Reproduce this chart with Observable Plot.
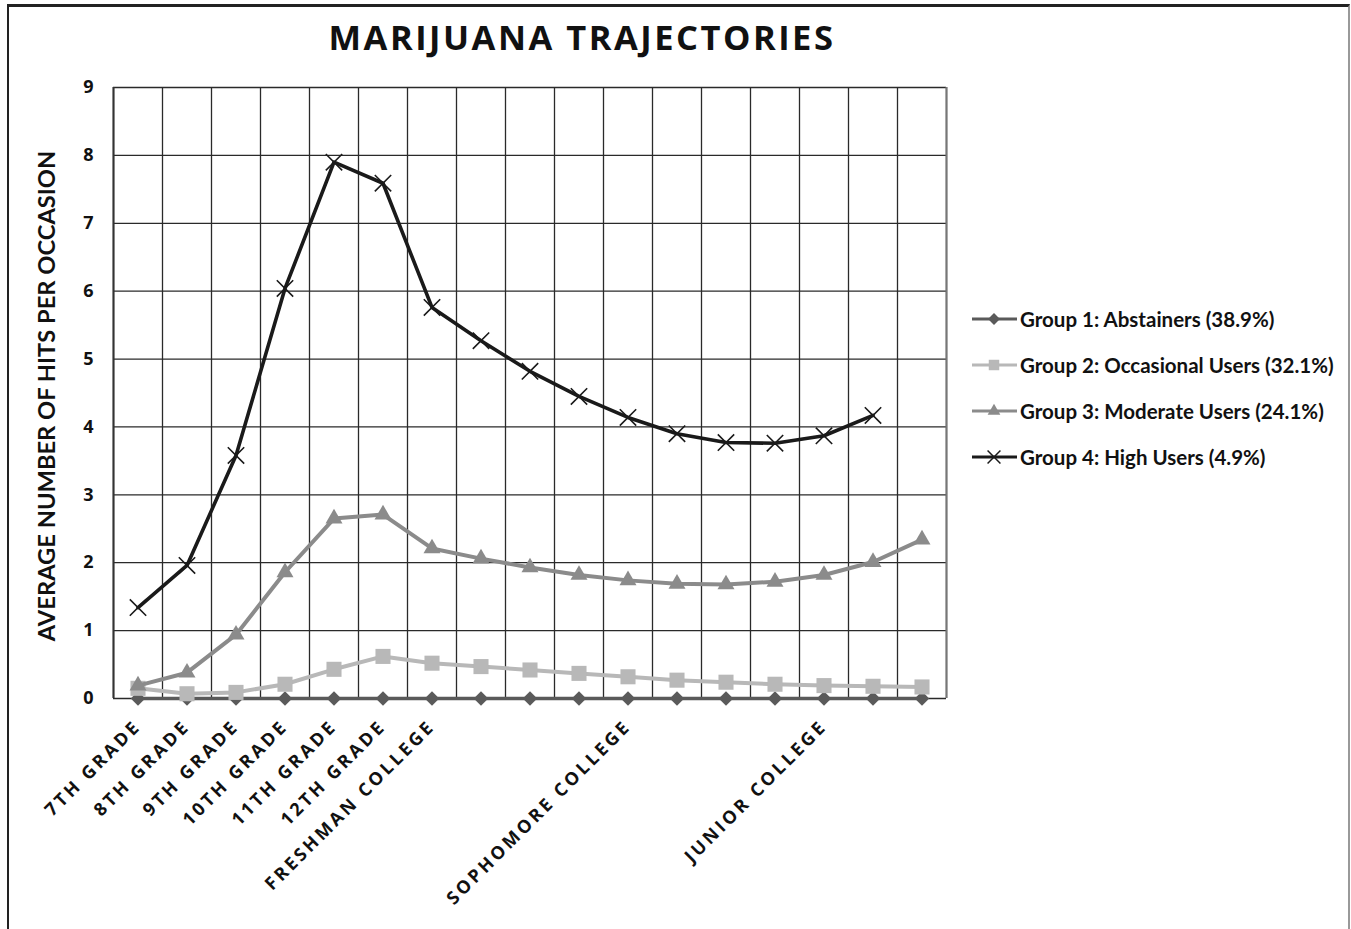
<!DOCTYPE html>
<html>
<head>
<meta charset="utf-8">
<script src="https://cdn.jsdelivr.net/npm/d3@7"></script>
<script src="https://cdn.jsdelivr.net/npm/@observablehq/plot@0.6"></script>
<style>
  html, body { margin: 0; padding: 0; background: #fff; }
  #wrap { position: relative; width: 1351px; height: 929px; overflow: hidden; background: #fff; }
  #frame { position: absolute; left: 7px; top: 4px; width: 1339px; height: 960px;
           border-top: 3px solid #222; border-left: 2px solid #222; border-right: 2px solid #999; }
  #title { position: absolute; left: 0; top: 13px; width: 1164px; text-align: center;
           font: 700 34.5px "Open Sans", sans-serif; letter-spacing: 2.5px; color: #111; }
  #chart { position: absolute; left: 0; top: 0; }
  #legend { position: absolute; left: 970px; top: 296px; font: 700 20.5px Lato, sans-serif; color: #111; }
  .row { display: flex; align-items: center; height: 46px; }
  .row svg { margin-right: 3px; }
</style>
</head>
<body>
<div id="wrap">
  <div id="frame"></div>
  <div id="chart"></div>
  <div id="title">MARIJUANA TRAJECTORIES</div>
  <div id="legend"></div>
</div>
<script>
// ---- data ----
const xLabels = ["7TH GRADE", "8TH GRADE", "9TH GRADE", "10TH GRADE", "11TH GRADE", "12TH GRADE",
  "FRESHMAN COLLEGE", "", "", "", "SOPHOMORE COLLEGE", "", "", "", "JUNIOR COLLEGE", "", ""];
const yTicks = [0, 1, 2, 3, 4, 5, 6, 7, 8, 9];
const yTitle = "AVERAGE NUMBER OF HITS PER OCCASION";
const seriesNames = ["Group 1: Abstainers (38.9%)", "Group 2: Occasional Users (32.1%)",
  "Group 3: Moderate Users (24.1%)", "Group 4: High Users (4.9%)"];
const g1 = [0, 0, 0, 0, 0, 0, 0, 0, 0, 0, 0, 0, 0, 0, 0, 0, 0];
const g2 = [0.15, 0.07, 0.09, 0.21, 0.43, 0.62, 0.52, 0.47, 0.42, 0.37, 0.32, 0.27, 0.24, 0.21, 0.19, 0.18, 0.17];
const g3 = [0.19, 0.38, 0.94, 1.86, 2.65, 2.71, 2.21, 2.06, 1.93, 1.82, 1.74, 1.69, 1.68, 1.72, 1.82, 2.01, 2.34];
const g4 = [1.34, 1.96, 3.58, 6.04, 7.90, 7.59, 5.76, 5.27, 4.82, 4.45, 4.14, 3.90, 3.77, 3.76, 3.87, 4.17];

const colors = ["#5a5a5a", "#b8b8b8", "#8b8b8b", "#1a1a1a"];

const idx = d3.range(xLabels.length);
const gridX = d3.range(-0.5, xLabels.length, 1);
const X = (d, i) => i;
const Y = d => d;

const chart = Plot.plot({
  width: 1351,
  height: 929,
  marginLeft: 113,
  marginRight: 405,
  marginTop: 87,
  marginBottom: 231,
  style: { background: "transparent", overflow: "visible" },
  x: { domain: [-0.5, xLabels.length - 0.5] },
  y: { domain: [0, 9] },
  marks: [
    Plot.ruleX(gridX, { stroke: "#2a2a2a", strokeWidth: 1.3 }),
    Plot.ruleY(yTicks, { stroke: "#2a2a2a", strokeWidth: 1.3 }),
    Plot.ruleX([gridX[gridX.length - 1]], { stroke: "#777", strokeWidth: 2 }),
    Plot.ruleX([-0.5], { stroke: "#333", strokeWidth: 2 }),
    Plot.axisY(yTicks, { tickSize: 0, tickPadding: 20, fontSize: 18, fontWeight: 700, tickFormat: "d",
      fontFamily: "Open Sans", fill: "#111", label: null }),
    Plot.axisX(idx, { tickSize: 0, tickPadding: 25, tickRotate: -45, tickFormat: i => xLabels[i],
      fontSize: 18, fontWeight: 700, fontFamily: "Open Sans", fill: "#111", label: null }),
    Plot.text([yTitle], {
      frameAnchor: "left", textAnchor: "middle", dx: -66, dy: 3, rotate: -90, fontSize: 23.7, fontWeight: 700,
      fontFamily: "Lato", fill: "#111" }),
    // Group 1
    Plot.line(g1, { x: X, y: Y, stroke: colors[0], strokeWidth: 3.5 }),
    Plot.dot(g1, { x: X, y: Y, symbol: "diamond2", fill: colors[0], r: 6.5 }),
    // Group 2
    Plot.line(g2, { x: X, y: Y, stroke: colors[1], strokeWidth: 4 }),
    Plot.dot(g2, { x: X, y: Y, symbol: "square", fill: colors[1], r: 8.5 }),
    // Group 3
    Plot.line(g3, { x: X, y: Y, stroke: colors[2], strokeWidth: 4 }),
    Plot.dot(g3, { x: X, y: Y, symbol: "triangle", fill: colors[2], r: 6.3 }),
    // Group 4
    Plot.line(g4, { x: X, y: Y, stroke: colors[3], strokeWidth: 3.6 }),
    Plot.dot(g4, { x: X, y: Y, symbol: "times", stroke: colors[3], strokeWidth: 1.6, r: 7.5 })
  ]
});
document.getElementById("chart").appendChild(chart);
d3.select(chart).selectAll('g[aria-label="x-axis tick label"], g[aria-label="x-axis tick label"] text')
  .style("font-size", "18px").style("font-weight", "700").style("font-family", "'Open Sans'");
d3.select(chart).selectAll('g[aria-label="x-axis tick label"] text').style("letter-spacing", "3px");
d3.select(chart).selectAll('g[aria-label="y-axis tick label"], g[aria-label="y-axis tick label"] text')
  .style("font-size", "18px").style("font-weight", "700").style("font-family", "'Open Sans'");

// ---- legend ----
const symbolFor = [
  d3.symbol(d3.symbolDiamond2, 90),
  d3.symbol(d3.symbolSquare, 110),
  d3.symbol(d3.symbolTriangle, 70),
  d3.symbol(d3.symbolTimes, 110)
];
const legend = d3.select("#legend");
seriesNames.forEach((name, k) => {
  const row = legend.append("div").attr("class", "row");
  const s = row.append("svg").attr("width", 47).attr("height", 20);
  s.append("line").attr("x1", 2).attr("x2", 47).attr("y1", 10).attr("y2", 10)
    .attr("stroke", colors[k]).attr("stroke-width", 3);
  const p = s.append("path").attr("d", symbolFor[k]()).attr("transform", "translate(24,10)");
  if (k === 3) p.attr("fill", "none").attr("stroke", colors[k]).attr("stroke-width", 1.5);
  else p.attr("fill", colors[k]);
  row.append("span").text(name);
});
</script>
</body>
</html>
